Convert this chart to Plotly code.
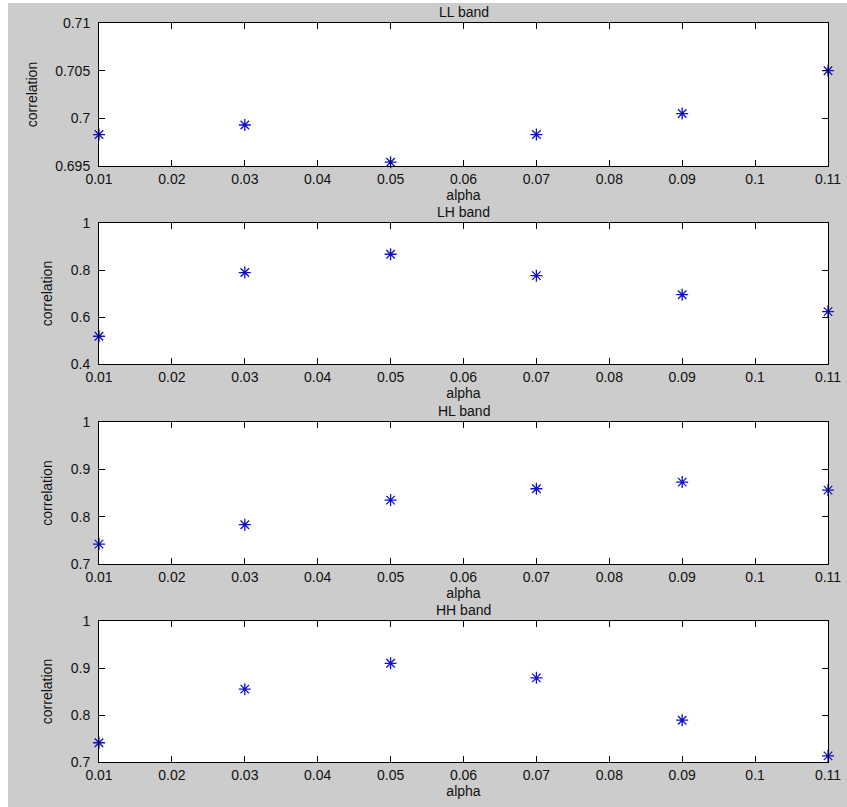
import plotly.graph_objects as go

alpha = [0.01, 0.03, 0.05, 0.07, 0.09, 0.11]
ll_band = [0.6983, 0.6993, 0.6954, 0.6983, 0.7005, 0.7050]
lh_band = [0.518, 0.789, 0.867, 0.776, 0.695, 0.623]
hl_band = [0.742, 0.783, 0.835, 0.859, 0.873, 0.856]
hh_band = [0.741, 0.855, 0.910, 0.879, 0.789, 0.713]

titles = ["LL band", "LH band", "HL band", "HH band"]
series = [ll_band, lh_band, hl_band, hh_band]

x_ticks = [0.01, 0.02, 0.03, 0.04, 0.05, 0.06, 0.07, 0.08, 0.09, 0.10, 0.11]
x_ticklabels = ["0.01", "0.02", "0.03", "0.04", "0.05", "0.06", "0.07", "0.08", "0.09", "0.1", "0.11"]
y_ticks = [[0.695, 0.70, 0.705, 0.71], [0.4, 0.6, 0.8, 1.0], [0.7, 0.8, 0.9, 1.0], [0.7, 0.8, 0.9, 1.0]]
y_ticklabels = [["0.695", "0.7", "0.705", "0.71"], ["0.4", "0.6", "0.8", "1"],
                ["0.7", "0.8", "0.9", "1"], ["0.7", "0.8", "0.9", "1"]]
y_ranges = [[0.695, 0.71], [0.4, 1.0], [0.7, 1.0], [0.7, 1.0]]

W, H = 847, 807
left_px, right_px = 99, 828
tops_px = [23, 223, 422, 621]
bottoms_px = [166, 364, 564, 762]

FONT = "Liberation Sans, Arial, sans-serif"
FS = 14
GRAY = "#cccccc"
TXT = "#111111"
BLUE = "#1010cc"

fig = go.Figure()
layout = dict(
    width=W, height=H,
    margin=dict(l=0, r=0, t=0, b=0, autoexpand=False),
    paper_bgcolor=GRAY,
    plot_bgcolor="white",
    showlegend=False,
    font=dict(family=FONT, size=FS, color=TXT),
    annotations=[], shapes=[],
)

for i in range(4):
    n = "" if i == 0 else str(i + 1)
    fig.add_trace(go.Scatter(
        x=alpha, y=series[i], mode="markers",
        xaxis="x" + n, yaxis="y" + n,
        cliponaxis=False,
        marker=dict(symbol="asterisk-open", size=10, color=BLUE,
                    line=dict(width=1.3, color=BLUE)),
    ))
    xd = [left_px / W, right_px / W]
    yd = [1 - bottoms_px[i] / H, 1 - tops_px[i] / H]
    layout["xaxis" + n] = dict(
        domain=xd, anchor="y" + n, range=[0.01, 0.11], automargin=False,
        tickmode="array", tickvals=x_ticks, ticktext=x_ticklabels,
        ticks="inside", ticklen=6, tickwidth=1, tickcolor="black",
        showline=True, linecolor="black", linewidth=1, mirror="ticks",
        showgrid=False, zeroline=False,
        title=dict(text="alpha", standoff=0, font=dict(size=FS)),
        tickfont=dict(size=FS),
    )
    layout["yaxis" + n] = dict(
        domain=yd, anchor="x" + n, range=y_ranges[i], automargin=False,
        tickmode="array", tickvals=y_ticks[i], ticktext=y_ticklabels[i],
        ticks="inside", ticklen=6, tickwidth=1, tickcolor="black",
        ticklabelstandoff=5,
        showline=True, linecolor="black", linewidth=1, mirror="ticks",
        showgrid=False, zeroline=False,
        title=dict(text="correlation", standoff=14, font=dict(size=FS)),
        tickfont=dict(size=FS),
    )
    layout["annotations"].append(dict(
        text=titles[i], xref="paper", yref="paper",
        x=(left_px + right_px) / 2 / W, y=1 - (tops_px[i] - 11) / H,
        xanchor="center", yanchor="middle", showarrow=False,
        font=dict(size=FS, family=FONT, color=TXT),
    ))

# thin white strips at the top and left edge of the picture
layout["shapes"].append(dict(type="rect", xref="paper", yref="paper",
                             x0=0, x1=1, y0=1 - 3 / H, y1=1,
                             fillcolor="white", line=dict(width=0), layer="below"))
layout["shapes"].append(dict(type="rect", xref="paper", yref="paper",
                             x0=0, x1=8 / W, y0=0, y1=1,
                             fillcolor="white", line=dict(width=0), layer="below"))

fig.update_layout(**layout)
fig.write_html("out.html")
